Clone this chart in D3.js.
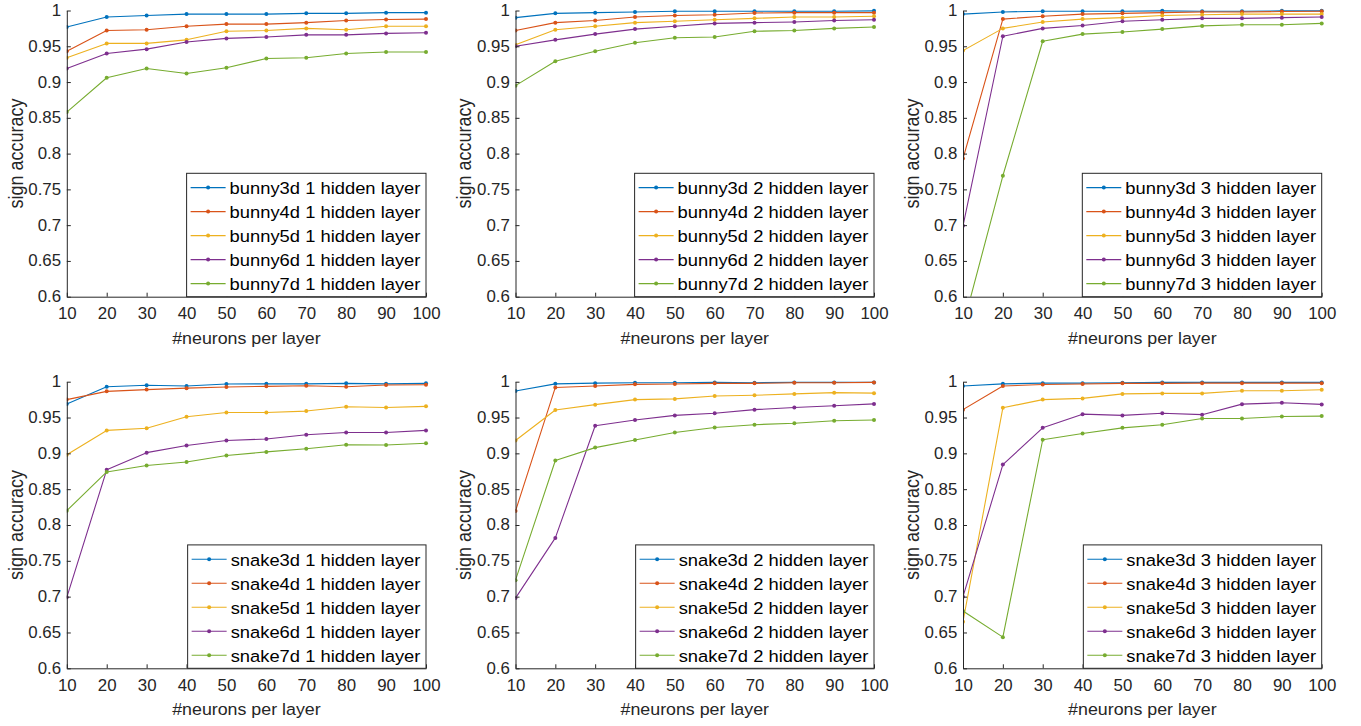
<!DOCTYPE html>
<html>
<head>
<meta charset="utf-8">
<script src="https://cdn.jsdelivr.net/npm/d3@7/dist/d3.min.js"></script>
<style>
  html, body { margin: 0; padding: 0; background: #fff; }
  svg { display: block; }
</style>
</head>
<body>
<svg id="fig" width="1361" height="726"></svg>
<script>
// x values: neurons per hidden layer
const neurons = [10, 20, 30, 40, 50, 60, 70, 80, 90, 100];
const yTickValues = [0.6, 0.65, 0.7, 0.75, 0.8, 0.85, 0.9, 0.95, 1];
const dims = ["3d", "4d", "5d", "6d", "7d"];
const seriesColors = ["#0072BD", "#D95319", "#EDB120", "#7E2F8E", "#77AC30"];

// sign accuracy, one row per dimension (3d..7d)
const bunny1 = [
  [0.977, 0.991, 0.993, 0.995, 0.995, 0.995, 0.996, 0.996, 0.997, 0.997],
  [0.943, 0.972, 0.973, 0.978, 0.981, 0.981, 0.983, 0.986, 0.9875, 0.988],
  [0.934, 0.954, 0.954, 0.959, 0.971, 0.972, 0.975, 0.973, 0.978, 0.978],
  [0.919, 0.940, 0.946, 0.956, 0.961, 0.963, 0.966, 0.966, 0.968, 0.969],
  [0.858, 0.906, 0.919, 0.912, 0.920, 0.933, 0.934, 0.940, 0.942, 0.942]
];
const bunny2 = [
  [0.990, 0.996, 0.997, 0.998, 0.999, 0.999, 0.999, 0.999, 0.999, 0.9995],
  [0.972, 0.983, 0.986, 0.991, 0.993, 0.994, 0.9965, 0.997, 0.997, 0.997],
  [0.952, 0.973, 0.978, 0.983, 0.985, 0.987, 0.989, 0.991, 0.991, 0.992],
  [0.950, 0.959, 0.967, 0.974, 0.978, 0.982, 0.983, 0.984, 0.986, 0.987],
  [0.895, 0.929, 0.943, 0.955, 0.962, 0.963, 0.971, 0.972, 0.975, 0.977]
];
const bunny3 = [
  [0.995, 0.998, 0.999, 0.999, 0.999, 0.9995, 0.999, 0.999, 0.9995, 0.9995],
  [0.793, 0.988, 0.992, 0.995, 0.996, 0.997, 0.998, 0.998, 0.9985, 0.999],
  [0.944, 0.975, 0.984, 0.988, 0.990, 0.993, 0.994, 0.995, 0.995, 0.995],
  [0.699, 0.964, 0.975, 0.979, 0.985, 0.987, 0.989, 0.989, 0.990, 0.991],
  [0.559, 0.769, 0.957, 0.967, 0.970, 0.974, 0.9785, 0.980, 0.980, 0.982]
];
const snake1 = [
  [0.969, 0.993, 0.995, 0.994, 0.9967, 0.997, 0.997, 0.9977, 0.997, 0.9977],
  [0.975, 0.9865, 0.989, 0.991, 0.9926, 0.9935, 0.9944, 0.993, 0.9953, 0.9958],
  [0.898, 0.932, 0.935, 0.951, 0.957, 0.957, 0.959, 0.965, 0.964, 0.9656],
  [0.699, 0.877, 0.901, 0.911, 0.918, 0.920, 0.926, 0.929, 0.929, 0.932],
  [0.820, 0.874, 0.883, 0.888, 0.897, 0.902, 0.9065, 0.912, 0.9116, 0.914]
];
const snake2 = [
  [0.987, 0.997, 0.998, 0.9986, 0.9986, 0.999, 0.9986, 0.999, 0.999, 0.999],
  [0.8195, 0.992, 0.994, 0.9963, 0.9967, 0.9977, 0.9977, 0.9986, 0.9986, 0.999],
  [0.918, 0.9605, 0.968, 0.975, 0.976, 0.980, 0.981, 0.983, 0.9847, 0.984],
  [0.698, 0.782, 0.9386, 0.9465, 0.953, 0.956, 0.961, 0.964, 0.9665, 0.969],
  [0.723, 0.890, 0.908, 0.9186, 0.929, 0.936, 0.940, 0.942, 0.9456, 0.9465]
];
const snake3 = [
  [0.994, 0.997, 0.998, 0.998, 0.9986, 0.999, 0.999, 0.999, 0.999, 0.999],
  [0.961, 0.994, 0.996, 0.9967, 0.9977, 0.9977, 0.998, 0.998, 0.998, 0.998],
  [0.665, 0.9636, 0.975, 0.9767, 0.983, 0.9837, 0.9837, 0.9874, 0.9874, 0.9888],
  [0.700, 0.8843, 0.9356, 0.9547, 0.953, 0.956, 0.954, 0.9687, 0.9706, 0.9683],
  [0.680, 0.6435, 0.919, 0.9277, 0.9356, 0.940, 0.9487, 0.9487, 0.9515, 0.952]
];

const panels = [
  { name: "bunny", layers: 1, data: bunny1, row: 0, col: 0 },
  { name: "bunny", layers: 2, data: bunny2, row: 0, col: 1 },
  { name: "bunny", layers: 3, data: bunny3, row: 0, col: 2 },
  { name: "snake", layers: 1, data: snake1, row: 1, col: 0 },
  { name: "snake", layers: 2, data: snake2, row: 1, col: 1 },
  { name: "snake", layers: 3, data: snake3, row: 1, col: 2 }
];

// plot-area geometry (left/right edges of each column, top/bottom of each row)
const colX = [[66.8, 426], [515.5, 874], [963, 1321.7]];
const rowY = [[10.5, 296.7], [381.7, 668.3]];

const FONT = "'Liberation Sans', Arial, Helvetica, sans-serif";
const SX = 1.08;          // glyph width factor
const AXIS_COLOR = "#262626";

const svg = d3.select("#fig");
svg.append("rect").attr("width", 1361).attr("height", 726).attr("fill", "#fff");

panels.forEach((p, idx) => {
  const [x0, x1] = colX[p.col];
  const [yTop, yBot] = rowY[p.row];
  const x = d3.scaleLinear().domain([10, 100]).range([x0, x1]);
  const y = d3.scaleLinear().domain([0.6, 1]).range([yBot, yTop]);

  const g = svg.append("g");
  const clipId = "clip" + idx;
  g.append("clipPath").attr("id", clipId)
    .append("rect")
    .attr("x", x0).attr("y", yTop - 4)
    .attr("width", x1 - x0 + 4).attr("height", yBot - yTop + 4);

  const plot = g.append("g").attr("clip-path", `url(#${clipId})`);
  const line = d3.line().x((d, i) => x(neurons[i])).y(d => y(d));

  p.data.forEach((vals, s) => {
    plot.append("path")
      .datum(vals)
      .attr("d", line)
      .attr("fill", "none")
      .attr("stroke", seriesColors[s])
      .attr("stroke-width", 1.1)
      .attr("stroke-linejoin", "round");
    plot.selectAll(null)
      .data(vals)
      .enter().append("circle")
      .attr("cx", (d, i) => x(neurons[i]))
      .attr("cy", d => y(d))
      .attr("r", 2)
      .attr("fill", seriesColors[s]);
  });

  // axes: ticks point into the plot area
  const xAxis = g.append("g")
    .attr("transform", `translate(0,${yBot})`)
    .call(d3.axisBottom(x).tickValues(neurons).tickFormat(d3.format("d"))
      .tickSizeInner(-4).tickSizeOuter(0).tickPadding(11.6));
  const yAxis = g.append("g")
    .attr("transform", `translate(${x0},0)`)
    .call(d3.axisLeft(y).tickValues(yTickValues).tickFormat(d3.format("~g"))
      .tickSizeInner(-4).tickSizeOuter(0).tickPadding(5.3));

  [xAxis, yAxis].forEach(ax => {
    ax.attr("font-family", FONT).attr("font-size", 15.6).attr("color", AXIS_COLOR);
    ax.select(".domain").attr("stroke-width", 1);
    ax.selectAll(".tick line").attr("stroke-width", 1);
    ax.selectAll(".tick text").attr("transform", `scale(${SX},1)`);
  });

  // axis titles
  g.append("text")
    .attr("transform", `translate(${(x0 + x1) / 2},${yBot + 47}) scale(${SX},1)`)
    .attr("text-anchor", "middle")
    .attr("font-family", FONT).attr("font-size", 16.5)
    .attr("fill", AXIS_COLOR)
    .text("#neurons per layer");
  g.append("text")
    .attr("transform", `translate(${x0 - 44.2},${(yTop + yBot) / 2}) scale(${SX},1) rotate(-90)`)
    .attr("text-anchor", "middle")
    .attr("font-family", FONT).attr("font-size", 18)
    .attr("fill", AXIS_COLOR)
    .text("sign accuracy");

  // legend anchored to the lower-right corner of the plot area
  const leg = g.append("g");
  const box = leg.append("rect")
    .attr("fill", "#fff")
    .attr("stroke", AXIS_COLOR)
    .attr("stroke-width", 1);
  const rowGap = 24, firstRow = 14.3, legH = 123.4;
  const legTop = yBot - legH;
  const labels = dims.map(d => `${p.name}${d} ${p.layers} hidden layer`);
  let maxLen = 0;
  const items = leg.selectAll("g.item")
    .data(labels)
    .enter().append("g").attr("class", "item");
  items.append("text")
    .attr("font-family", FONT).attr("font-size", 17)
    .attr("fill", "#000")
    .text(d => d)
    .each(function () { maxLen = Math.max(maxLen, this.getComputedTextLength() * SX); });
  const legW = 43 + maxLen + 5.5;
  const legLeft = x1 - legW;
  box.attr("x", legLeft).attr("y", legTop).attr("width", legW).attr("height", legH);
  items.each(function (d, i) {
    const it = d3.select(this);
    const cy = legTop + firstRow + i * rowGap;
    it.insert("line", "text")
      .attr("x1", legLeft + 4).attr("x2", legLeft + 39)
      .attr("y1", cy).attr("y2", cy)
      .attr("stroke", seriesColors[i]).attr("stroke-width", 1.1);
    it.insert("circle", "text")
      .attr("cx", legLeft + 21.5).attr("cy", cy).attr("r", 2)
      .attr("fill", seriesColors[i]);
    it.select("text")
      .attr("transform", `translate(${legLeft + 43},${cy + 6.6}) scale(${SX},1)`);
  });
});
</script>
</body>
</html>
